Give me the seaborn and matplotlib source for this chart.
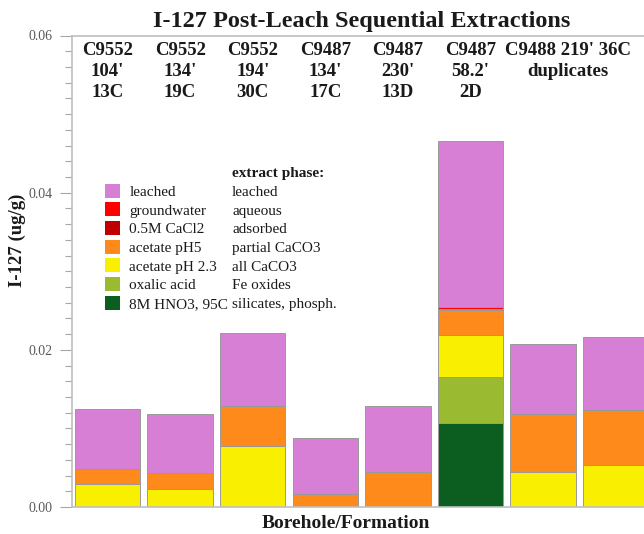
import numpy as np
import pandas as pd
import matplotlib
matplotlib.use("Agg")
import matplotlib.pyplot as plt
from matplotlib.patches import Patch
from matplotlib.ticker import MultipleLocator, FormatStrFormatter
import seaborn as sns

# Samples (borehole, depth, formation); the last two are duplicates
samples = ["C9552 104' 13C", "C9552 134' 19C", "C9552 194' 30C", "C9487 134' 17C",
           "C9487 230' 13D", "C9487 58.2' 2D", "C9488 219' 36C a", "C9488 219' 36C b"]

# I-127 (ug/g) per extraction step, stacked bottom to top
hno3 = [0.0, 0.0, 0.0, 0.0, 0.0, 0.01065, 0.0, 0.0]
oxalic = [0.0, 0.0, 0.0, 0.0, 0.0, 0.0059, 0.0, 0.0]
acetate_ph23 = [0.0029, 0.0023, 0.0078, 0.0, 0.0, 0.0054, 0.0044, 0.0053]
acetate_ph5 = [0.0019, 0.0020, 0.0051, 0.0016, 0.0044, 0.0031, 0.0074, 0.0070]
cacl2 = [0.0, 0.0, 0.0, 0.0, 0.0, 0.00012, 0.0, 0.0]
groundwater = [0.0, 0.0, 0.0, 0.0, 0.0, 0.00026, 0.0, 0.0]
leached = [0.0077, 0.0075, 0.0092, 0.0072, 0.0085, 0.0211, 0.0089, 0.0093]

extractants = ["8M HNO3, 95C", "oxalic acid", "acetate pH 2.3", "acetate pH5",
               "0.5M CaCl2", "groundwater", "leached"]
phases = ["silicates, phosph.", "Fe oxides", "all CaCO3", "partial CaCO3",
          "adsorbed", "aqueous", "leached"]
layers = [hno3, oxalic, acetate_ph23, acetate_ph5, cacl2, groundwater, leached]
colors = ["#0b5e1f", "#9aba32", "#f8f000", "#ff8a1c", "#c00000", "#ff0000", "#d67fd4"]

header_labels = ["C9552\n104'\n13C", "C9552\n134'\n19C", "C9552\n194'\n30C",
                 "C9487\n134'\n17C", "C9487\n230'\n13D", "C9487\n58.2'\n2D",
                 "C9488 219' 36C\nduplicates"]

sns.set_style("ticks")
plt.rcParams["font.family"] = ["Liberation Serif", "DejaVu Serif"]

fig = plt.figure(figsize=(6.44, 5.34), dpi=100)
ax = fig.add_axes([72 / 644, 27 / 534, 572 / 644, 471.5 / 534])

df = pd.DataFrame({"sample": samples})
bottom = np.zeros(len(samples))
for name, vals, col in zip(extractants, layers, colors):
    df[name] = vals
    sns.barplot(data=df, x="sample", y=name, color=col, width=0.9,
                edgecolor="#9a9a9a", linewidth=0.7, bottom=bottom.copy(),
                errorbar=None, saturation=1, ax=ax)
    bottom = bottom + np.asarray(vals)

ax.set_xlim(-0.489, 7.39)
ax.set_ylim(0, 0.06)
ax.yaxis.set_major_locator(MultipleLocator(0.02))
ax.yaxis.set_minor_locator(MultipleLocator(0.002))
ax.yaxis.set_major_formatter(FormatStrFormatter("%.2f"))
ax.tick_params(axis="y", which="major", length=9, width=0.8, color="#a6a6a6",
               labelsize=10, labelcolor="#595959", pad=5)
ax.tick_params(axis="y", which="minor", length=5, width=0.8, color="#a6a6a6")
ax.tick_params(axis="x", bottom=False, labelbottom=False)
for side in ["left", "top", "bottom"]:
    ax.spines[side].set_color("#bfbfbf")
    ax.spines[side].set_linewidth(1.2)
ax.spines["right"].set_visible(False)

ax.set_ylabel("I-127 (ug/g)", fontsize=13.5, fontweight="bold", color="#1a1a1a")
ax.yaxis.set_label_coords(-0.081, (507 - 240) / 471.5)
ax.set_xlabel("Borehole/Formation", fontsize=14, fontweight="bold", color="#1a1a1a")
ax.xaxis.set_label_coords((346 - 72) / 572, -0.018)
ax.set_title("I-127 Post-Leach Sequential Extractions", fontsize=17.5,
             fontweight="bold", color="#1a1a1a", x=(362 - 72) / 572, pad=6)

# Sample headers above the bars; the duplicate pair shares one header
header_x = [0, 1, 2, 3, 4, 5, 6.34]
for xpos, lab in zip(header_x, header_labels):
    ax.text(xpos, 0.0592, lab, ha="center", va="top", fontsize=13.5,
            fontweight="bold", color="#1a1a1a", linespacing=1.33)

# Two-column legend: extractant with swatch, then the extracted phase
blank = Patch(facecolor="none", edgecolor="none")
swatches = [Patch(facecolor=c, edgecolor="none") for c in colors[::-1]]
handles = [blank] + swatches + [blank] * (len(phases) + 1)
labels = [""] + extractants[::-1] + ["extract phase:"] + phases[::-1]
leg = ax.legend(handles, labels, ncol=2, loc="upper left",
                bbox_to_anchor=((105 - 72) / 572, (507 - 165) / 471.5),
                frameon=False, fontsize=11, handlelength=1.0, handleheight=1.05,
                handletextpad=0.6, labelspacing=0.22, columnspacing=-1.35,
                borderpad=0, borderaxespad=0)
for t in leg.get_texts():
    t.set_color("#1a1a1a")
    if t.get_text() == "extract phase:":
        t.set_fontweight("bold")

fig.savefig("out.png", dpi=100)
